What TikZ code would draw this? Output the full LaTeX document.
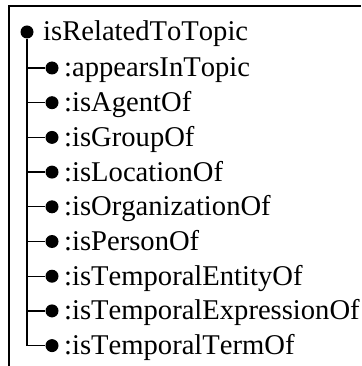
\documentclass[tikz,border=0pt]{standalone}
\usepackage{fontspec}
\setmainfont{Liberation Serif}[Kerning=Off]
\begin{document}
\begin{tikzpicture}[x=1pt,y=-1pt,
  frame/.style={line width=1.7pt},
  tree/.style={line width=1.3pt},
  dot/.style={circle,fill=black,inner sep=0pt,minimum size=13pt},
  label/.style={anchor=base west,inner sep=0pt,font=\fontsize{28.6}{28.6}\selectfont}]
\useasboundingbox (0,0) rectangle (361,366);
% open frame: top and left rules only
\coordinate (fbl) at (9,366);
\coordinate (ftl) at (9,6);
\coordinate (ftr) at (361,6);
\draw[frame] (fbl) -- (ftl) -- (ftr);
% root
\node[dot] (root) at (27,32) {};
\node[label] (rootlabel) at (43,41) {isRelatedToTopic};
% children
\foreach \i/\t in {0/:appearsInTopic,1/:isAgentOf,2/:isGroupOf,3/:isLocationOf,
  4/:isOrganizationOf,5/:isPersonOf,6/:isTemporalEntityOf,
  7/:isTemporalExpressionOf,8/:isTemporalTermOf}{
  \pgfmathsetmacro{\yy}{68+34.7*\i}
  \node[dot] (c\i) at (52,\yy) {};
  \coordinate (j\i) at (27,\yy);
  \node[label] (l\i) at (64,\yy+9) {\t};
  \draw[tree] (j\i) -- (c\i);
}
\draw[tree] (root) -- (j8);
\end{tikzpicture}
\end{document}
